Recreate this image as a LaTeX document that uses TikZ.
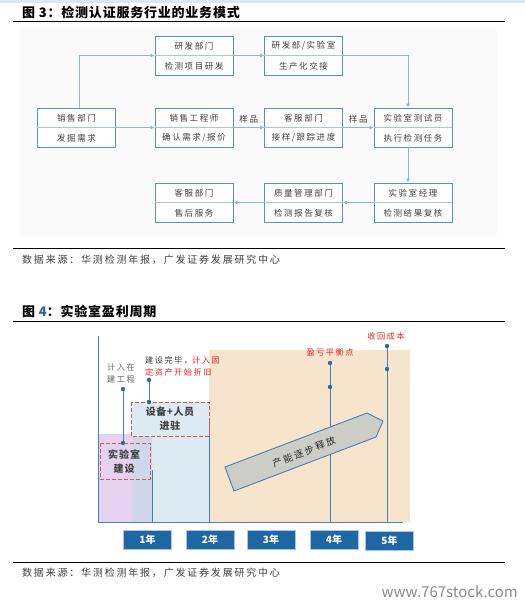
\documentclass[tikz,border=0pt]{standalone}
\usepackage{fontspec}
\setmainfont{Noto Sans CJK SC}
\usetikzlibrary{positioning, arrows.meta}

\definecolor{boxblue}{HTML}{5B8FC7}
\definecolor{divblue}{HTML}{A9C4E4}
\definecolor{linkblue}{HTML}{8DB4E2}
\definecolor{axisblue}{HTML}{4A7FB5}
\definecolor{dotblue}{HTML}{2B6AA3}
\definecolor{yearblue}{HTML}{1F67A3}
\definecolor{peach}{HTML}{F7E4CC}
\definecolor{lightblue}{HTML}{DCEBF2}
\definecolor{lilac}{HTML}{E3D3F0}
\definecolor{mixblue}{HTML}{CFD8EA}
\definecolor{arrowgray}{HTML}{CDCDC8}
\definecolor{textgray}{HTML}{404040}
\definecolor{markred}{HTML}{E8505B}
\definecolor{labelred}{HTML}{F02020}

\newcommand{\boxfont}{\fontsize{8.5}{10}\selectfont\addfontfeature{LetterSpace=18}}
\newcommand{\notefont}{\fontsize{8.2}{12}\selectfont\addfontfeature{LetterSpace=18}}
\newcommand{\srcfont}{\fontsize{10}{12}\selectfont\addfontfeature{LetterSpace=18}}
\newcommand{\titlefont}{\fontsize{13}{15}\selectfont\bfseries\addfontfeature{LetterSpace=6}}

\tikzset{
  fbox/.style={draw=boxblue, line width=0.8pt, fill=white, minimum width=78pt, minimum height=39pt, inner sep=0pt},
  fdiv/.style={draw=divblue, line width=0.7pt},
  ftext/.style={inner sep=0pt, text=textgray, font=\boxfont},
  flow/.style={draw=linkblue, line width=0.8pt, -{Latex[length=4pt,width=4pt]}},
  rule/.style={line width=0.9pt},
  markline/.style={draw=axisblue, line width=0.9pt},
  markbox/.style={draw=markred, dash pattern=on 4pt off 2pt, line width=1pt},
  yearbox/.style={fill=yearblue, draw=divblue, line width=0.5pt, minimum width=48pt, minimum height=19pt, inner sep=0pt, text=white, font=\fontsize{10}{12}\selectfont\bfseries}
}

\newcommand{\flowbox}[4]{%
  \node[fbox] (#1) at (#2) {};
  \draw[fdiv] (#1.west) -- (#1.east);
  \node[ftext] (#1-t) at ([yshift=9.5pt]#1.center) {#3};
  \node[ftext] (#1-b) at ([yshift=-10.5pt]#1.center) {#4};
}

\begin{document}
\begin{tikzpicture}[x=1pt, y=-1pt]
  \useasboundingbox (0,0) rectangle (525,606);
  \fill[white] (0,0) rectangle (525,606);
  \fill[divblue!40] (0,0) rectangle (525,2.5);

  % figure 3
  \node[anchor=west, inner sep=0pt, font=\titlefont] (t3) at (22,12) {图\ 3：检测认证服务行业的业务模式};
  \draw[rule] (13,21) -- (505,21);
  \fill[black!2] (20,28) rectangle (497,236);

  \flowbox{yf}{194,55.5}{研发部门}{检测项目研发}
  \flowbox{ys}{303.5,55.5}{研发部/实验室}{生产化交接}
  \flowbox{xs}{76.5,127.5}{销售部门}{发掘需求}
  \flowbox{xg}{194,127.5}{销售工程师}{确认需求/报价}
  \flowbox{kf}{303.5,127.5}{客服部门}{接样/跟踪进度}
  \flowbox{cs}{413,127.5}{实验室测试员}{执行检测任务}
  \flowbox{kh}{194,202.5}{客服部门}{售后服务}
  \flowbox{zl}{303.5,202.5}{质量管理部门}{检测报告复核}
  \flowbox{jl}{413,202.5}{实验室经理}{检测结果复核}

  \draw[flow] ([xshift=2.5pt]xs.north) |- (yf.west);
  \draw[flow] (xs.east) -- (xg.west);
  \draw[flow] (yf.east) -- (ys.west);
  \draw[flow] (ys.east) -| ([xshift=-5pt]cs.north);
  \draw[flow] (xg.east) -- node[ftext, above=4pt] (yp1) {样品} (kf.west);
  \draw[flow] (kf.east) -- node[ftext, above=4pt] (yp2) {样品} (cs.west);
  \draw[flow] ([xshift=-5pt]cs.south) -- ([xshift=-5pt]jl.north);
  \draw[flow] (jl.west) -- (zl.east);
  \draw[flow] (zl.west) -- (kh.east);

  \draw[rule] (13,248) -- (505,248);
  \node[anchor=west, inner sep=0pt, text=textgray, font=\srcfont] (src3) at (22,260) {数据来源：华测检测年报，广发证券发展研究中心};

  % figure 4
  \node[anchor=west, inner sep=0pt, font=\titlefont] (t4) at (22,311) {图\ {\color{yearblue}4}：实验室盈利周期};
  \draw[rule] (13,321) -- (505,321);

  \fill[peach] (209,350) rectangle (410,522);
  \fill[lightblue] (133,402) rectangle (209,522);
  \fill[lilac] (98,434) rectangle (133,522);
  \fill[mixblue] (133,434) rectangle (152,522);
  \draw[markline] (152,470) -- (152,522);
  \draw[markline] (209,420) -- (209,522);

  \draw[markbox, fill=lightblue] (131,402) rectangle (209,436);
  \draw[markbox] (100,443) rectangle (150,479);
  \node[inner sep=0pt, text=textgray, font=\fontsize{10}{14}\selectfont\bfseries\addfontfeature{LetterSpace=6}, align=center] (sb) at (170,419) {设备+人员\\进驻};
  \node[inner sep=0pt, text=textgray, font=\fontsize{10}{14}\selectfont\bfseries\addfontfeature{LetterSpace=10}, align=center] (js) at (124,462) {实验室\\建设};

  \draw[axisblue, line width=1pt] (98,336) -- (98,522) -- (403,522);

  \coordinate (m1a) at (123,389); \coordinate (m1b) at (123,443);
  \coordinate (m2a) at (149,380); \coordinate (m2b) at (149,402);
  \coordinate (m3a) at (330,363); \coordinate (m3b) at (330,387); \coordinate (m3c) at (330,522);
  \coordinate (m4a) at (387,346); \coordinate (m4b) at (387,369); \coordinate (m4c) at (387,522);
  \draw[markline] (m1a) -- (m1b);
  \draw[markline] (m2a) -- (m2b);
  \draw[markline] (m3a) -- (m3c);
  \draw[markline] (m4a) -- (m4c);
  \foreach \p in {m1a,m1b,m2a,m2b,m3a,m3b,m4a,m4b}
    \fill[dotblue] (\p) circle (2.2pt);

  \draw[draw=axisblue, fill=arrowgray, line width=0.9pt] (225,467) -- (367,413) -- (383,421) -- (376,437) -- (234,491) -- cycle;
  \node[rotate=21, inner sep=0pt, text=black!85, font=\fontsize{9.5}{11}\selectfont\addfontfeature{LetterSpace=20}] (cn) at (304,452) {产能逐步释放};

  \node[inner sep=0pt, text=black!60, font=\notefont, align=center] (l1) at (121,373) {计入在\\建工程};
  \node[inner sep=0pt, anchor=west, text=textgray, font=\notefont, align=left] (l2) at (145,366) {建设完毕，{\color{labelred}计入固}\\{\color{labelred}定资产开始折旧}};
  \node[inner sep=0pt, text=labelred, font=\notefont] (l3) at (330,352) {盈亏平衡点};
  \node[inner sep=0pt, text=labelred, font=\notefont] (l4) at (386,336) {收回成本};

  \foreach \n/\x/\y in {1/147.5/539.5, 2/210/539.5, 3/271/539.5, 4/334/539.5, 5/389.5/540.5}
    \node[yearbox] (yr\n) at (\x,\y) {\n 年};

  \draw[rule] (13,562) -- (505,562);
  \node[anchor=west, inner sep=0pt, text=textgray, font=\srcfont] (src4) at (22,573) {数据来源：华测检测年报，广发证券发展研究中心};
  \node[anchor=east, inner sep=0pt, text=black!45, font=\fontsize{15}{17}\selectfont] (wm) at (518,592) {www.767stock.com};
\end{tikzpicture}
\end{document}
